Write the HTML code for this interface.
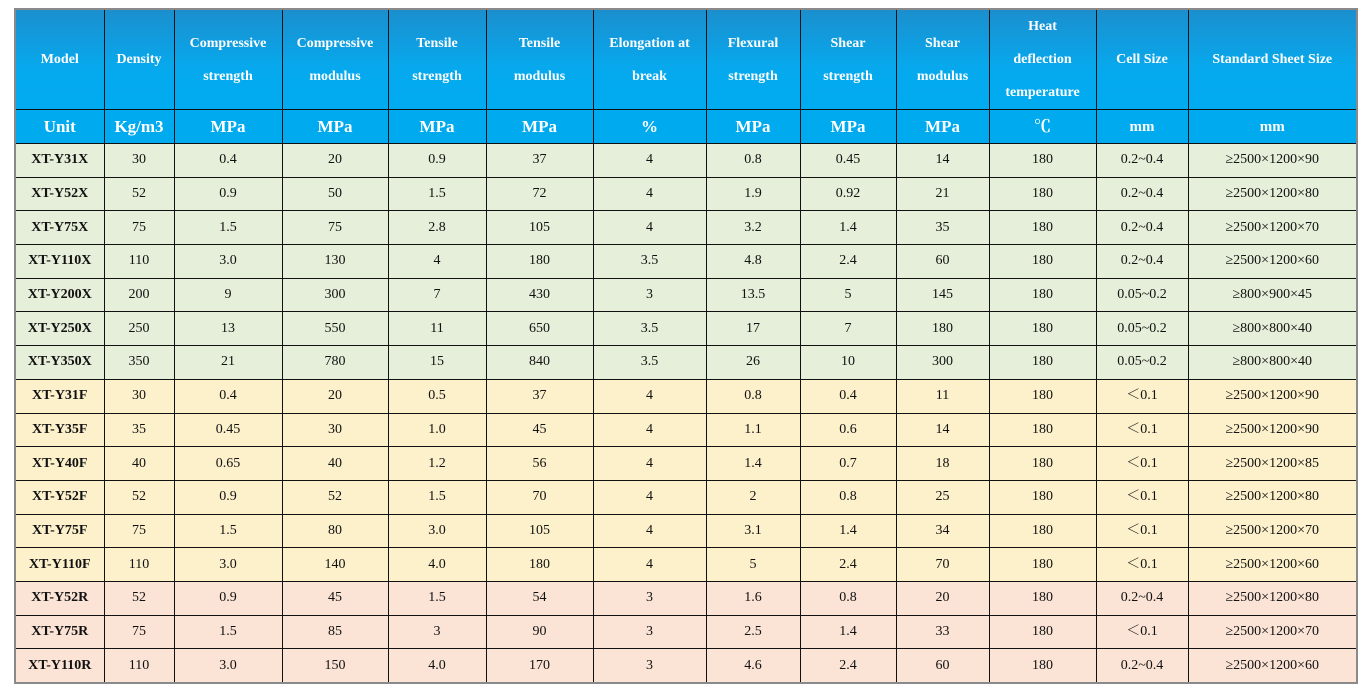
<!DOCTYPE html>
<html><head><meta charset="utf-8"><style>
html,body{margin:0;padding:0;background:#fff;width:1366px;height:692px;overflow:hidden}
table{position:absolute;left:14px;top:8px;border-collapse:collapse;table-layout:fixed;width:1342px;border:2px solid #8a8a8a;font-family:"Liberation Serif","Noto Serif CJK SC",serif;font-size:14px;color:#111}
td,th{border:1px solid #111;text-align:center;vertical-align:middle;padding:0;line-height:16px}
td{height:32.7px}
th{color:#fff;font-weight:bold;font-size:14px;line-height:33px}
tr.h th{height:98px;background:linear-gradient(#1b8fce,#06a9ee 60%,#00abf0)}
tr.u th{height:33px;background:#00aaef;font-size:17px;line-height:20px}
td.m{font-weight:bold;font-size:14px}
tr.g td{background:#e6efd9}
tr.y td{background:#fdf1cc}
tr.p td{background:#fbe4d6}
</style></head><body>
<table>
<colgroup><col style="width:89px"><col style="width:70px"><col style="width:108px"><col style="width:106px"><col style="width:98px"><col style="width:107px"><col style="width:113px"><col style="width:94px"><col style="width:96px"><col style="width:93px"><col style="width:107px"><col style="width:92px"><col style="width:169px"></colgroup>
<tr class="h"><th>Model</th><th>Density</th><th>Compressive<br>strength</th><th>Compressive<br>modulus</th><th>Tensile<br>strength</th><th>Tensile<br>modulus</th><th>Elongation at<br>break</th><th>Flexural<br>strength</th><th>Shear<br>strength</th><th>Shear<br>modulus</th><th>Heat<br>deflection<br>temperature</th><th>Cell Size</th><th>Standard Sheet Size</th></tr>
<tr class="u"><th>Unit</th><th>Kg/m3</th><th>MPa</th><th>MPa</th><th>MPa</th><th>MPa</th><th>%</th><th>MPa</th><th>MPa</th><th>MPa</th><th>℃</th><th style="font-size:15px">mm</th><th style="font-size:15px">mm</th></tr>
<tr class="g"><td class="m">XT-Y31X</td><td>30</td><td>0.4</td><td>20</td><td>0.9</td><td>37</td><td>4</td><td>0.8</td><td>0.45</td><td>14</td><td>180</td><td>0.2~0.4</td><td>≥2500×1200×90</td></tr>
<tr class="g"><td class="m">XT-Y52X</td><td>52</td><td>0.9</td><td>50</td><td>1.5</td><td>72</td><td>4</td><td>1.9</td><td>0.92</td><td>21</td><td>180</td><td>0.2~0.4</td><td>≥2500×1200×80</td></tr>
<tr class="g"><td class="m">XT-Y75X</td><td>75</td><td>1.5</td><td>75</td><td>2.8</td><td>105</td><td>4</td><td>3.2</td><td>1.4</td><td>35</td><td>180</td><td>0.2~0.4</td><td>≥2500×1200×70</td></tr>
<tr class="g"><td class="m">XT-Y110X</td><td>110</td><td>3.0</td><td>130</td><td>4</td><td>180</td><td>3.5</td><td>4.8</td><td>2.4</td><td>60</td><td>180</td><td>0.2~0.4</td><td>≥2500×1200×60</td></tr>
<tr class="g"><td class="m">XT-Y200X</td><td>200</td><td>9</td><td>300</td><td>7</td><td>430</td><td>3</td><td>13.5</td><td>5</td><td>145</td><td>180</td><td>0.05~0.2</td><td>≥800×900×45</td></tr>
<tr class="g"><td class="m">XT-Y250X</td><td>250</td><td>13</td><td>550</td><td>11</td><td>650</td><td>3.5</td><td>17</td><td>7</td><td>180</td><td>180</td><td>0.05~0.2</td><td>≥800×800×40</td></tr>
<tr class="g"><td class="m">XT-Y350X</td><td>350</td><td>21</td><td>780</td><td>15</td><td>840</td><td>3.5</td><td>26</td><td>10</td><td>300</td><td>180</td><td>0.05~0.2</td><td>≥800×800×40</td></tr>
<tr class="y"><td class="m">XT-Y31F</td><td>30</td><td>0.4</td><td>20</td><td>0.5</td><td>37</td><td>4</td><td>0.8</td><td>0.4</td><td>11</td><td>180</td><td>＜0.1</td><td>≥2500×1200×90</td></tr>
<tr class="y"><td class="m">XT-Y35F</td><td>35</td><td>0.45</td><td>30</td><td>1.0</td><td>45</td><td>4</td><td>1.1</td><td>0.6</td><td>14</td><td>180</td><td>＜0.1</td><td>≥2500×1200×90</td></tr>
<tr class="y"><td class="m">XT-Y40F</td><td>40</td><td>0.65</td><td>40</td><td>1.2</td><td>56</td><td>4</td><td>1.4</td><td>0.7</td><td>18</td><td>180</td><td>＜0.1</td><td>≥2500×1200×85</td></tr>
<tr class="y"><td class="m">XT-Y52F</td><td>52</td><td>0.9</td><td>52</td><td>1.5</td><td>70</td><td>4</td><td>2</td><td>0.8</td><td>25</td><td>180</td><td>＜0.1</td><td>≥2500×1200×80</td></tr>
<tr class="y"><td class="m">XT-Y75F</td><td>75</td><td>1.5</td><td>80</td><td>3.0</td><td>105</td><td>4</td><td>3.1</td><td>1.4</td><td>34</td><td>180</td><td>＜0.1</td><td>≥2500×1200×70</td></tr>
<tr class="y"><td class="m">XT-Y110F</td><td>110</td><td>3.0</td><td>140</td><td>4.0</td><td>180</td><td>4</td><td>5</td><td>2.4</td><td>70</td><td>180</td><td>＜0.1</td><td>≥2500×1200×60</td></tr>
<tr class="p"><td class="m">XT-Y52R</td><td>52</td><td>0.9</td><td>45</td><td>1.5</td><td>54</td><td>3</td><td>1.6</td><td>0.8</td><td>20</td><td>180</td><td>0.2~0.4</td><td>≥2500×1200×80</td></tr>
<tr class="p"><td class="m">XT-Y75R</td><td>75</td><td>1.5</td><td>85</td><td>3</td><td>90</td><td>3</td><td>2.5</td><td>1.4</td><td>33</td><td>180</td><td>＜0.1</td><td>≥2500×1200×70</td></tr>
<tr class="p"><td class="m">XT-Y110R</td><td>110</td><td>3.0</td><td>150</td><td>4.0</td><td>170</td><td>3</td><td>4.6</td><td>2.4</td><td>60</td><td>180</td><td>0.2~0.4</td><td>≥2500×1200×60</td></tr>
</table>
</body></html>
